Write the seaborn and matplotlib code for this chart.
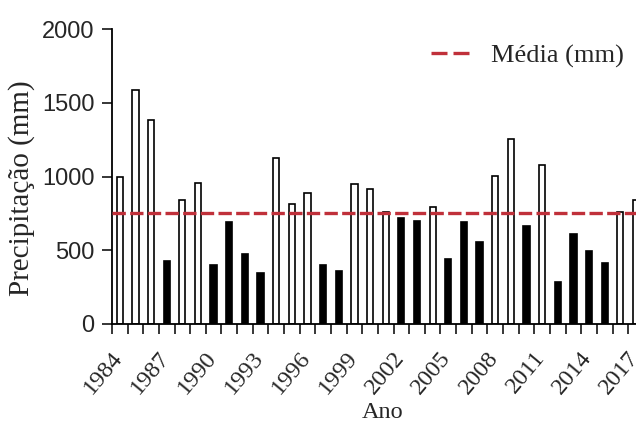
import numpy as np
import pandas as pd
import matplotlib
matplotlib.use("Agg")
import matplotlib.pyplot as plt
import matplotlib.transforms as mtransforms
import seaborn as sns

# Precipitação anual (mm)
anos = list(range(1984, 2018))
precipitacao = [995, 1588, 1384, 425, 842, 959, 402, 694, 473, 344,
                1124, 814, 887, 402, 357, 948, 914, 760, 722, 701,
                794, 439, 690, 559, 1006, 1256, 665, 1079, 287, 609,
                497, 416, 760, 842]
media = 755

df = pd.DataFrame({"Ano": anos, "Precipitação": precipitacao})
df["classe"] = np.where(df["Precipitação"] > media, "acima", "abaixo")

sns.set_style("ticks")
plt.rcParams["font.family"] = ["Liberation Serif", "DejaVu Serif"]

fig = plt.figure(figsize=(6.36, 4.24), dpi=100)
ax = fig.add_axes([0.176, 0.236, 0.824, 0.695])

sns.barplot(data=df, x="Ano", y="Precipitação", hue="classe",
            palette={"acima": "white", "abaixo": "black"},
            edgecolor="black", linewidth=1.2, width=0.4,
            dodge=False, legend=False, ax=ax)

ax.axhline(media, color="#c0303a", lw=2.4, ls=(0, (4, 1.3)),
           label="Média (mm)", zorder=3)

ax.set_yticks([0, 500, 1000, 1500, 2000])
ax.set_yticklabels(["0", "500", "1000", "1500", "2000"],
                   family="Liberation Sans", fontsize=17)

# ticks nas fronteiras das barras, rótulos a cada 3 anos
ax.set_xticks(np.arange(-0.5, 34, 1), minor=True)
ax.set_xticks(np.arange(0, 34, 3))
ax.set_xticklabels([str(a) for a in anos[::3]], rotation=50,
                   ha="right", va="top", rotation_mode="anchor",
                   fontsize=17.5)
ax.tick_params(axis="x", which="major", length=0, pad=17)
ax.tick_params(axis="x", which="minor", length=7.5, width=1.3, direction="out")
ax.tick_params(axis="y", length=7.5, width=1.3, pad=5)

ax.set_ylim(0, 2000)
ax.set_xlim(-0.5, 33.0)

# desloca os rótulos para a esquerda (depois de tick_params)
desloc = mtransforms.ScaledTranslation(-9 / 100, 0, fig.dpi_scale_trans)
for lbl in ax.get_xticklabels():
    lbl.set_transform(lbl.get_transform() + desloc)

sns.despine(ax=ax)
for s in ["left", "bottom"]:
    ax.spines[s].set_linewidth(1.3)
    ax.spines[s].set_color("black")

ax.set_xlabel("Ano", fontsize=17.5)
ax.xaxis.set_label_coords(0.517, -0.265)
ax.set_ylabel("Precipitação (mm)", fontsize=21)
ax.yaxis.set_label_coords(-0.147, 0.46)

leg = ax.legend(loc="center right", bbox_to_anchor=(0.976, 0.91),
                frameon=False, fontsize=19, handlelength=1.5,
                handletextpad=0.75, borderpad=0, borderaxespad=0)
leg.get_lines()[0].set_linestyle((0, (4.8, 1.8)))

fig.savefig("out.png", dpi=100)
